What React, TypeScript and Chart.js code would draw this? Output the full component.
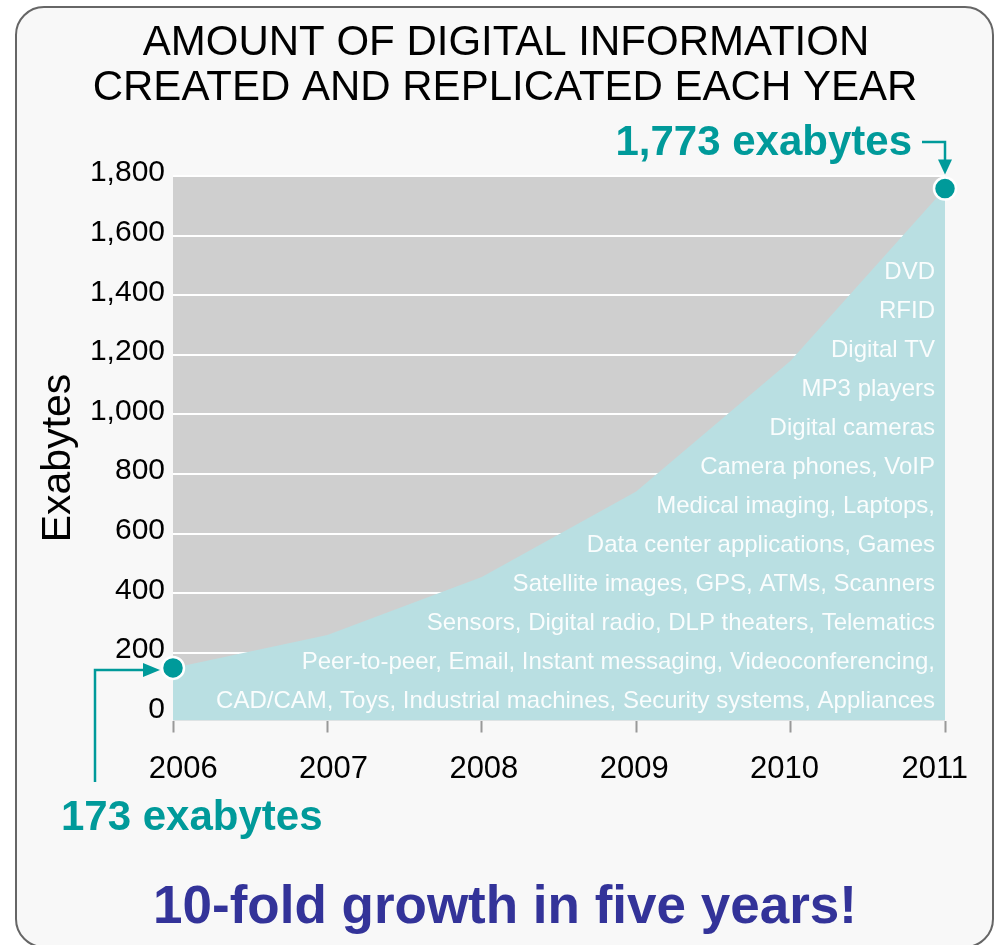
import { useEffect, useRef } from "react";
import { Chart, registerables } from "chart.js";

Chart.register(...registerables);

const years = ["2006", "2007", "2008", "2009", "2010", "2011"];
const exabytes = [150, 260, 455, 742, 1180, 1758];
const yTicks = [0, 200, 400, 600, 800, 1000, 1200, 1400, 1600, 1800];
const titleLines = ["AMOUNT OF DIGITAL INFORMATION", "CREATED AND REPLICATED EACH YEAR"];
const sourceLines = [
  "DVD",
  "RFID",
  "Digital TV",
  "MP3 players",
  "Digital cameras",
  "Camera phones, VoIP",
  "Medical imaging, Laptops,",
  "Data center applications, Games",
  "Satellite images, GPS, ATMs, Scanners",
  "Sensors, Digital radio, DLP theaters, Telematics",
  "Peer-to-peer, Email, Instant messaging, Videoconferencing,",
  "CAD/CAM, Toys, Industrial machines, Security systems, Appliances",
];
const startLabel = "173 exabytes";
const endLabel = "1,773 exabytes";
const tagline = "10-fold growth in five years!";
const axisTitle = "Exabytes";

const FONT = "'Liberation Sans', Arial, Helvetica, sans-serif";
const TEAL = "#009a9a";
const AREA = "#b9dfe2";
const PLOT_BG = "#cfcfcf";
const PAGE_BG = "#f8f8f8";
const NAVY = "#333399";

function roundRect(ctx: CanvasRenderingContext2D, x: number, y: number, w: number, h: number, r: number) {
  ctx.beginPath();
  ctx.moveTo(x + r, y);
  ctx.lineTo(x + w - r, y);
  ctx.arcTo(x + w, y, x + w, y + r, r);
  ctx.lineTo(x + w, y + h - r);
  ctx.arcTo(x + w, y + h, x + w - r, y + h, r);
  ctx.lineTo(x + r, y + h);
  ctx.arcTo(x, y + h, x, y + h - r, r);
  ctx.lineTo(x, y + r);
  ctx.arcTo(x, y, x + r, y, r);
  ctx.closePath();
}

const decorPlugin = {
  id: "decor",
  beforeDraw(chart: any) {
    const ctx: CanvasRenderingContext2D = chart.ctx;
    const { chartArea } = chart;
    ctx.save();
    ctx.fillStyle = "#ffffff";
    ctx.fillRect(0, 0, chart.width, chart.height);
    roundRect(ctx, 16, 7, 977, 940, 28);
    ctx.fillStyle = PAGE_BG;
    ctx.fill();
    ctx.lineWidth = 2;
    ctx.strokeStyle = "#666666";
    ctx.stroke();
    ctx.fillStyle = PLOT_BG;
    ctx.fillRect(chartArea.left, chartArea.top, chartArea.right - chartArea.left, chartArea.bottom - chartArea.top);
    ctx.restore();
  },
  afterDraw(chart: any) {
    const ctx: CanvasRenderingContext2D = chart.ctx;
    const { chartArea } = chart;
    const xScale = chart.scales.x;
    const pts = chart.getDatasetMeta(0).data;
    ctx.save();

    // title
    ctx.fillStyle = "#000000";
    ctx.font = `42px ${FONT}`;
    ctx.textAlign = "center";
    ctx.textBaseline = "alphabetic";
    ctx.fillText(titleLines[0], 506, 55);
    ctx.fillText(titleLines[1], 505, 100);

    // axis title
    ctx.save();
    ctx.translate(70, 458);
    ctx.rotate(-Math.PI / 2);
    ctx.font = `41px ${FONT}`;
    ctx.textAlign = "center";
    ctx.fillText(axisTitle, 0, 0);
    ctx.restore();

    // x category labels (spread slightly narrower than the ticks, as in the source)
    const cx = (chartArea.left + chartArea.right) / 2 + 0.75;
    ctx.font = `31px ${FONT}`;
    ctx.textAlign = "center";
    ctx.fillStyle = "#000000";
    years.forEach((yr, i) => {
      const tx = xScale.getPixelForTick(i);
      ctx.fillText(yr, cx + (tx - cx) * 0.9734, chartArea.bottom + 57.5);
    });

    // source labels inside area
    ctx.fillStyle = "rgba(255,255,255,0.92)";
    ctx.font = `24px ${FONT}`;
    ctx.textAlign = "right";
    const n = sourceLines.length;
    for (let i = 0; i < n; i++) {
      const y = chartArea.bottom - 12.5 - (n - 1 - i) * 39;
      ctx.fillText(sourceLines[i], chartArea.right - 10, y);
    }

    // annotations
    const pEnd = pts[pts.length - 1];
    const pStart = pts[0];
    ctx.fillStyle = TEAL;
    ctx.strokeStyle = TEAL;
    ctx.lineWidth = 2.5;
    ctx.font = `bold 42px ${FONT}`;
    ctx.textAlign = "right";
    ctx.fillText(endLabel, pEnd.x - 33, 155);
    ctx.beginPath();
    ctx.moveTo(pEnd.x - 23, 142);
    ctx.lineTo(pEnd.x, 142);
    ctx.lineTo(pEnd.x, pEnd.y - 28);
    ctx.stroke();
    ctx.beginPath();
    ctx.moveTo(pEnd.x - 7, pEnd.y - 29);
    ctx.lineTo(pEnd.x + 7, pEnd.y - 29);
    ctx.lineTo(pEnd.x, pEnd.y - 14);
    ctx.closePath();
    ctx.fill();

    ctx.textAlign = "left";
    ctx.fillText(startLabel, 61, 830);
    ctx.beginPath();
    ctx.moveTo(95, 782);
    ctx.lineTo(95, pStart.y + 2);
    ctx.lineTo(pStart.x - 29, pStart.y + 2);
    ctx.stroke();
    ctx.beginPath();
    ctx.moveTo(pStart.x - 30, pStart.y - 5);
    ctx.lineTo(pStart.x - 30, pStart.y + 9);
    ctx.lineTo(pStart.x - 13, pStart.y + 2);
    ctx.closePath();
    ctx.fill();

    // tagline
    ctx.fillStyle = NAVY;
    ctx.font = `bold 53px ${FONT}`;
    ctx.textAlign = "center";
    ctx.fillText(tagline, 505, 923);

    ctx.restore();
  },
};

export default function App() {
  const canvasRef = useRef<HTMLCanvasElement | null>(null);

  useEffect(() => {
    if (!canvasRef.current) return;
    const chart = new Chart(canvasRef.current, {
      type: "line",
      data: {
        labels: years,
        datasets: [
          {
            data: exabytes,
            fill: "start",
            backgroundColor: AREA,
            borderWidth: 0,
            borderColor: "rgba(0,0,0,0)",
            tension: 0,
            pointRadius: [11, 0, 0, 0, 0, 11],
            pointHoverRadius: [11, 0, 0, 0, 0, 11],
            pointBackgroundColor: TEAL,
            pointBorderColor: "#ffffff",
            pointBorderWidth: 2.5,
            clip: false as any,
          },
        ],
      },
      options: {
        responsive: false,
        animation: false,
        devicePixelRatio: 1,
        layout: { padding: { left: 0, right: 51, top: 176, bottom: 164.5 } },
        plugins: {
          legend: { display: false },
          tooltip: { enabled: false },
          title: { display: false },
        },
        scales: {
          x: {
            type: "category",
            offset: false,
            afterFit: (scale: any) => {
              scale.height = 60;
            },
            grid: {
              drawOnChartArea: false,
              drawTicks: true,
              tickLength: 12,
              tickColor: "#999999",
              tickWidth: 2,
            },
            border: { display: false },
            ticks: {
              color: "rgba(0,0,0,0)",
              font: { family: FONT, size: 31 },
              padding: 14,
              maxRotation: 0,
              autoSkip: false,
            },
          },
          y: {
            type: "linear",
            min: -26.5,
            max: 1800,
            afterFit: (scale: any) => {
              scale.width = 173;
            },
            afterBuildTicks: (scale: any) => {
              scale.ticks = yTicks.map((v) => ({ value: v }));
            },
            grid: {
              color: "#ffffff",
              lineWidth: 2,
              drawTicks: false,
            },
            border: { display: false },
            ticks: {
              color: "#000000",
              font: { family: FONT, size: 30 },
              padding: 8,
              labelOffset: -3,
              callback: (v: any) => Number(v).toLocaleString("en-US"),
            },
          },
        },
      },
      plugins: [decorPlugin],
    });
    return () => chart.destroy();
  }, []);

  return (
    <div style={{ position: "absolute", left: 0, top: 0, width: 996, height: 945 }}>
      <canvas ref={canvasRef} width={996} height={945} style={{ display: "block" }} />
    </div>
  );
}
